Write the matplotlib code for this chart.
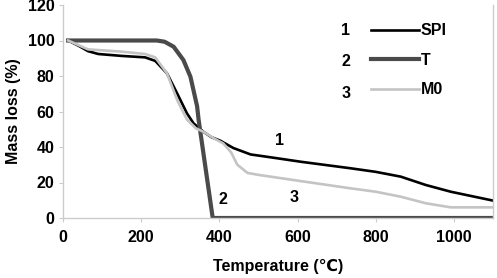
import matplotlib
matplotlib.use("Agg")
import matplotlib.pyplot as plt

plt.rcParams['font.family'] = ['Liberation Sans', 'DejaVu Sans']
plt.rcParams['font.weight'] = 'bold'

# TGA curves
temp_spi = [13, 40, 64, 90, 151, 210, 236, 266, 292, 317, 334, 359, 380, 402, 436,
            480, 531, 608, 736, 800, 864, 928, 992, 1100]
mass_spi = [100, 97, 94, 92.4, 91.3, 90.5, 88.5, 81.5, 70.2, 59, 53.3, 48.6, 45.5,
            43.6, 39.4, 35.8, 34.2, 31.7, 28, 26, 23.3, 18.6, 14.8, 9.8]

temp_t = [13, 240, 260, 283, 308, 326, 343, 347, 383, 1100]
mass_t = [100, 100, 99.3, 96.5, 89, 79.6, 63, 55.2, 0, 0]

temp_m0 = [13, 64, 151, 210, 236, 266, 292, 317, 340, 359, 385, 410, 430, 446, 472,
           500, 608, 736, 800, 864, 928, 992, 1100]
mass_m0 = [100, 95, 93.7, 92.4, 90.5, 81.5, 66.5, 55.5, 50.5, 48.6, 45, 42, 37, 30,
           25.4, 24.3, 20.8, 16.7, 14.8, 12, 8.3, 6, 6]

series_names = ['SPI', 'T', 'M0']
series_nums = ['1', '2', '3']
xticks = [0, 200, 400, 600, 800, 1000]
yticks = [0, 20, 40, 60, 80, 100, 120]

fs = 11.5

fig = plt.figure(figsize=(4.97, 2.78), dpi=100)
ax = fig.add_axes([63/497, 60/278, 430/497, 213/278])

l1, = ax.plot(temp_spi, mass_spi, color='black', lw=1.9)
l2, = ax.plot(temp_t, mass_t, color='#4a4a4a', lw=3.0)
l3, = ax.plot(temp_m0, mass_m0, color='#c4c4c4', lw=1.9)

ax.set_xlim(0, 1100)
ax.set_ylim(0, 120)
ax.set_xticks(xticks)
ax.set_yticks(yticks)

for side in ['left', 'bottom', 'right']:
    ax.spines[side].set_color('#cccccc')
    ax.spines[side].set_linewidth(1)
ax.spines['top'].set_visible(False)
ax.tick_params(axis='both', colors='#cccccc', labelcolor='black', labelsize=fs, length=3)
ax.tick_params(axis='x', pad=6)
ax.tick_params(axis='y', pad=3)

ax.set_xlabel("Temperature (℃)", fontsize=fs, fontweight='bold')
ax.set_ylabel("Mass loss (%)", fontsize=fs, fontweight='bold')
ax.xaxis.set_label_coords(0.5, -0.19)
ax.yaxis.set_label_coords(-0.098, 0.5)

# curve numbers
ax.text(554, 43.4, '1', ha='center', va='center', fontsize=fs, fontweight='bold')
ax.text(410, 10.7, '2', ha='center', va='center', fontsize=fs, fontweight='bold')
ax.text(590, 11.3, '3', ha='center', va='center', fontsize=fs, fontweight='bold')

leg = ax.legend([l1, l2, l3], series_names, loc='upper left', bbox_to_anchor=(0.716, 0.915),
                frameon=False, fontsize=fs, handlelength=3.0, handletextpad=0.1,
                labelspacing=0.92, borderpad=0, borderaxespad=0)
for txt in leg.get_texts():
    txt.set_fontweight('bold')

# numbers in front of legend rows
for num, y in zip(series_nums, [105.5, 88, 70.4]):
    ax.text(723, y, num, ha='center', va='center', fontsize=fs, fontweight='bold')

fig.savefig("out.png", dpi=100)
